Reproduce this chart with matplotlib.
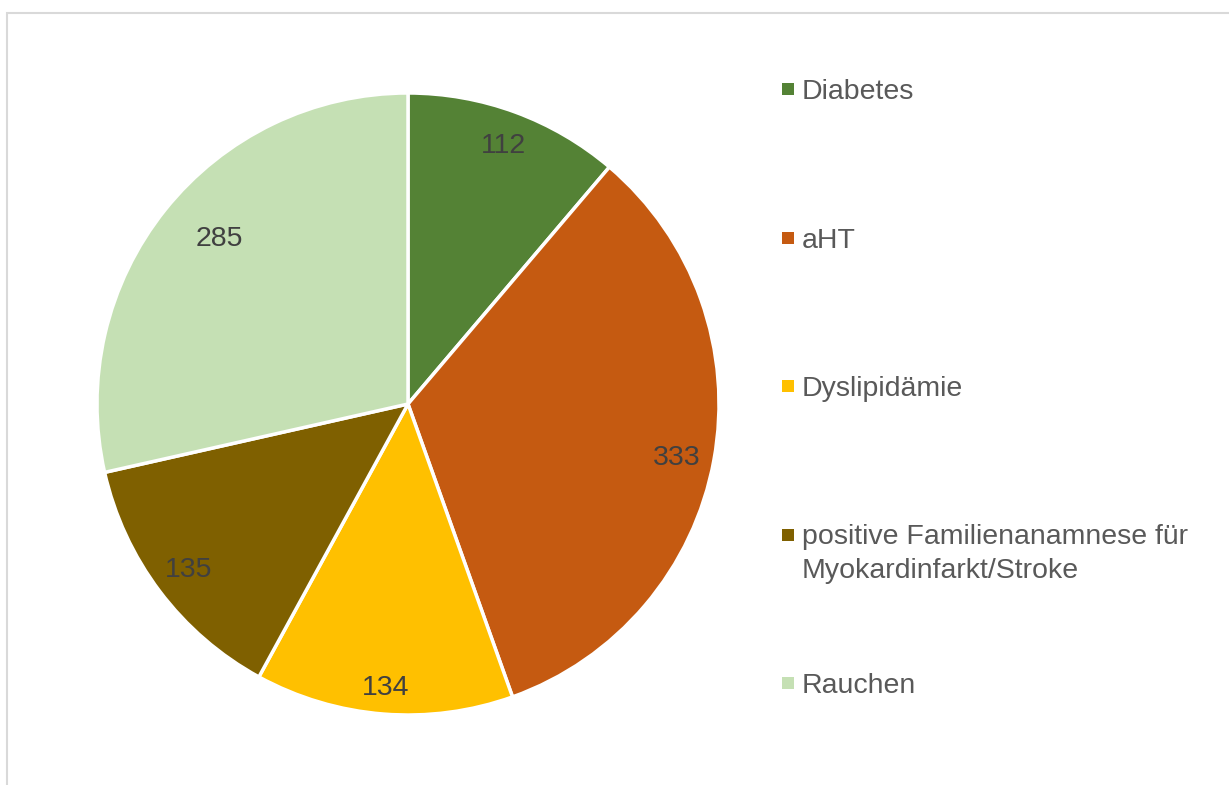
import numpy as np
import matplotlib.pyplot as plt
from matplotlib.patches import Rectangle

plt.rcParams['font.family'] = ['Liberation Sans', 'DejaVu Sans']

# Daten
kategorien = ['Diabetes', 'aHT', 'Dyslipidämie',
              'positive Familienanamnese für\nMyokardinfarkt/Stroke', 'Rauchen']
werte = [112, 333, 134, 135, 285]
farben = ['#548235', '#C55A11', '#FFC000', '#7F6000', '#C5E0B4']

W, H = 1229, 785
fig = plt.figure(figsize=(W / 100, H / 100), dpi=100)

# Rahmen (hellgrau, rechts/unten außerhalb des Bildes)
fig.patches.append(Rectangle((7 / W, -0.05), 1.1, 1 - 13 / H + 0.05,
                             transform=fig.transFigure, fill=False,
                             edgecolor='#D9D9D9', linewidth=1.5))

cx, cy, r = 408, 404, 311
ax = fig.add_axes([(cx - r) / W, (H - cy - r) / H, 2 * r / W, 2 * r / H])
wedges, _ = ax.pie(werte, colors=farben, startangle=90, counterclock=False,
                   radius=1, wedgeprops=dict(edgecolor='white', linewidth=2.5))
ax.set_xlim(-1, 1)
ax.set_ylim(-1, 1)
ax.set_aspect('equal')
ax.axis('off')

# Beschriftungen in den Segmenten (Abstand vom Mittelpunkt, Winkelkorrektur in Grad)
abstand = [0.885, 0.88, 0.915, 0.885, 0.805]
winkel_korr = [0, -1, 0, 0, -2.5]
for w, v, d, k in zip(wedges, werte, abstand, winkel_korr):
    theta = np.deg2rad((w.theta1 + w.theta2) / 2 + k)
    ax.text(d * np.cos(theta), d * np.sin(theta), str(v), ha='center', va='center',
            fontsize=20.5, color='#404040')

# Legende manuell (Grundlinien in Pixel)
erste = 99
schritt = 148.5
zeile = 34
for i, (lab, col) in enumerate(zip(kategorien, farben)):
    y = erste + i * schritt
    fig.patches.append(Rectangle((782 / W, 1 - (y - 4) / H), 12 / W, 12 / H,
                                 transform=fig.transFigure, facecolor=col,
                                 edgecolor='none'))
    for j, teil in enumerate(lab.split('\n')):
        fig.text(802 / W, 1 - (y + j * zeile) / H, teil, ha='left', va='baseline',
                 fontsize=20.5, color='#595959')

fig.savefig('out.png', dpi=100)
